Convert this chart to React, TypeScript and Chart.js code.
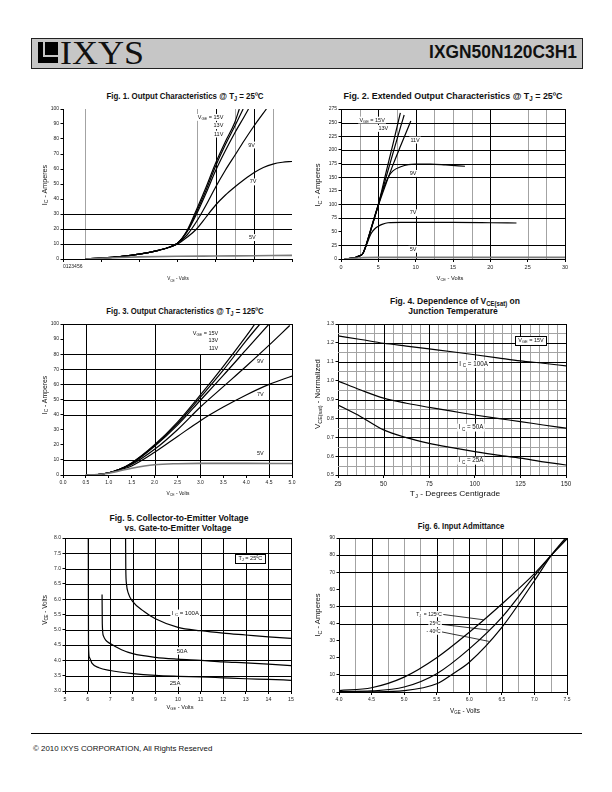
import React, { useEffect, useLayoutEffect, useRef } from 'react';
import { Chart, registerables } from 'chart.js';

Chart.register(...registerables);

type Pt = [number, number];
type Part = [string, number];
type GL = number | [number, number, number];

const FONT = '"Liberation Sans", Arial, Helvetica, sans-serif';
const SERIF = '"Liberation Serif", "Times New Roman", serif';
const GRAY = '#a3a3a3';
const PAD_L = 40, PAD_T = 8, PAD_R = 10, PAD_B = 22;

/* ---------------- Fig. 1  Output Characteristics @ Tj = 25C ---------------- */
const fig1XTicks = [0, 1, 2, 3, 4, 5, 6];
const fig1YTicks = [0, 10, 20, 30, 40, 50, 60, 70, 80, 90, 100];
const fig1XLabel = '0123456';
const fig1Vge15: Pt[] = [[0.58, 0], [1.0, 0.6], [1.5, 1.6], [2.0, 3.2], [2.5, 5.8], [2.8, 8], [3.0, 10.5], [3.25, 19], [3.5, 33], [3.75, 48], [4.0, 64], [4.25, 78], [4.5, 91], [4.62, 100]];
const fig1Vge13: Pt[] = [[0.58, 0], [1.0, 0.6], [1.5, 1.6], [2.0, 3.2], [2.5, 5.8], [2.8, 8], [3.0, 10.5], [3.25, 18.5], [3.5, 31.5], [3.75, 46], [4.0, 62], [4.25, 76], [4.5, 88.5], [4.72, 100]];
const fig1Vge11: Pt[] = [[0.58, 0], [1.0, 0.6], [1.5, 1.6], [2.0, 3.2], [2.5, 5.8], [2.8, 8], [3.0, 10.5], [3.25, 18], [3.5, 30], [3.75, 44], [4.0, 59], [4.25, 72], [4.5, 84], [4.75, 95], [4.86, 100]];
const fig1Vge9: Pt[] = [[0.58, 0], [1.0, 0.6], [1.5, 1.6], [2.0, 3.2], [2.5, 5.8], [2.8, 8], [3.0, 10.5], [3.25, 16], [3.5, 25], [3.75, 36], [4.0, 48], [4.25, 59], [4.5, 69], [4.75, 79], [5.0, 88.5], [5.33, 100]];
const fig1Vge7: Pt[] = [[0.58, 0], [1.0, 0.6], [1.5, 1.6], [2.0, 3.2], [2.5, 5.8], [2.8, 8], [3.0, 10], [3.25, 14.5], [3.5, 20], [3.75, 28], [4.0, 36], [4.25, 42.5], [4.5, 48], [4.75, 53], [5.0, 57.5], [5.25, 61], [5.5, 63.3], [5.75, 64.5], [6.0, 65]];
const fig1Vge5: Pt[] = [[0.58, 0], [1.0, 0.5], [1.5, 1.0], [2.0, 1.4], [3.0, 1.8], [4.0, 2.0], [5.0, 2.2], [6.0, 2.4]];

/* ---------------- Fig. 2  Extended Output Characteristics @ Tj = 25C ---------------- */
const fig2XTicks = [0, 5, 10, 15, 20, 25, 30];
const fig2YTicks = [0, 25, 50, 75, 100, 125, 150, 175, 200, 225, 250, 275];
const fig2Vge15: Pt[] = [[0.5, 0], [1.5, 1.5], [2.0, 3], [2.5, 6], [2.8, 8], [3.0, 12], [3.2, 19], [3.5, 32], [4.0, 55], [4.5, 77], [5.0, 100], [6.0, 157], [7.0, 213], [7.95, 268]];
const fig2Vge13: Pt[] = [[0.5, 0], [1.5, 1.5], [2.0, 3], [2.5, 6], [2.8, 8], [3.0, 12], [3.2, 19], [3.5, 31.5], [4.0, 54], [4.5, 76], [5.0, 99], [6.0, 148], [7.0, 196], [8.0, 243], [8.46, 264]];
const fig2Vge11: Pt[] = [[0.5, 0], [1.5, 1.5], [2.0, 3], [2.5, 6], [2.8, 8], [3.0, 12], [3.2, 19], [3.5, 31], [4.0, 53], [4.5, 76], [5.0, 98], [6.0, 137], [7.0, 174], [8.0, 208], [9.35, 253]];
const fig2Vge9: Pt[] = [[0.5, 0], [1.5, 1.5], [2.0, 3], [2.5, 6], [2.8, 8], [3.0, 12], [3.2, 19], [3.5, 31], [4.0, 54], [4.5, 78], [5.0, 100], [5.5, 123], [6.0, 140], [6.5, 154], [7.0, 162], [8.0, 169], [9.0, 173], [10.0, 174], [12.0, 174], [14.0, 172.5], [16.6, 170]];
const fig2Vge7: Pt[] = [[0.5, 0], [1.5, 1.5], [2.0, 3], [2.5, 6], [2.8, 8], [3.0, 12], [3.5, 29], [4.0, 46], [4.5, 55], [5.0, 60], [5.5, 63.5], [6.3, 66.5], [8.0, 67], [15.0, 67], [20.0, 66.5], [23.5, 66]];
const fig2Vge5: Pt[] = [[0.5, 0], [2.0, 1.5], [3.0, 2.5], [5.0, 3], [10.0, 3], [20.0, 3], [30.0, 3]];

/* ---------------- Fig. 3  Output Characteristics @ Tj = 125C ---------------- */
const fig3XTicks = [0, 0.5, 1.0, 1.5, 2.0, 2.5, 3.0, 3.5, 4.0, 4.5, 5.0];
const fig3YTicks = [0, 10, 20, 30, 40, 50, 60, 70, 80, 90, 100];
const fig3Vge15: Pt[] = [[0.5, 0], [0.75, 0.3], [1.0, 1.5], [1.25, 4], [1.5, 8], [2.0, 20], [2.5, 35], [3.0, 53], [3.5, 72], [4.0, 92], [4.19, 100]];
const fig3Vge13: Pt[] = [[0.5, 0], [0.75, 0.3], [1.0, 1.5], [1.25, 4], [1.5, 8], [2.0, 19.5], [2.5, 34], [3.0, 51.5], [3.5, 69.5], [4.0, 89], [4.3, 100]];
const fig3Vge11: Pt[] = [[0.5, 0], [0.75, 0.3], [1.0, 1.5], [1.25, 4], [1.5, 7.5], [2.0, 19], [2.5, 33], [3.0, 49.5], [3.5, 66], [4.0, 83], [4.5, 100]];
const fig3Vge9: Pt[] = [[0.5, 0], [0.75, 0.3], [1.0, 1.5], [1.25, 4], [1.5, 7], [2.0, 17], [2.5, 30], [3.0, 45], [3.5, 58.5], [4.0, 72], [4.5, 86], [4.95, 99]];
const fig3Vge7: Pt[] = [[0.5, 0], [0.75, 0.3], [1.0, 1.5], [1.25, 3.5], [1.5, 6], [2.0, 15], [2.5, 25.5], [3.0, 36], [3.5, 45], [4.0, 53], [4.5, 60], [5.0, 65.5]];
const fig3Vge5: Pt[] = [[0.5, 0], [0.75, 0.3], [1.0, 1.2], [1.5, 4.5], [2.0, 6.8], [2.5, 7.5], [3.0, 7.7], [4.0, 7.7], [5.0, 7.6]];

/* ---------------- Fig. 4  VCE(sat) vs junction temperature ---------------- */
const fig4XTicks = [25, 50, 75, 100, 125, 150];
const fig4YTicks = [0.5, 0.6, 0.7, 0.8, 0.9, 1.0, 1.1, 1.2, 1.3];
const fig4Ic100: Pt[] = [[25, 1.237], [37.5, 1.218], [50, 1.198], [62.5, 1.183], [75, 1.168], [87.5, 1.153], [100, 1.137], [112.5, 1.121], [125, 1.105], [137.5, 1.092], [150, 1.078]];
const fig4Ic50: Pt[] = [[25, 0.998], [37.5, 0.95], [50, 0.907], [62.5, 0.88], [75, 0.858], [87.5, 0.838], [100, 0.818], [112.5, 0.8], [125, 0.783], [137.5, 0.765], [150, 0.748]];
const fig4Ic25: Pt[] = [[25, 0.871], [37.5, 0.809], [50, 0.739], [62.5, 0.698], [75, 0.668], [87.5, 0.645], [100, 0.624], [112.5, 0.605], [125, 0.589], [137.5, 0.57], [150, 0.553]];

/* ---------------- Fig. 5  VCE vs VGE ---------------- */
const fig5XTicks = [5, 6, 7, 8, 9, 10, 11, 12, 13, 14, 15];
const fig5YTicks = [3.0, 3.5, 4.0, 4.5, 5.0, 5.5, 6.0, 6.5, 7.0, 7.5, 8.0];
const fig5Ic100: Pt[] = [[7.68, 8.0], [7.69, 7.0], [7.72, 6.5], [7.8, 6.2], [8.0, 5.92], [8.5, 5.6], [9.0, 5.36], [10.0, 5.08], [11.0, 4.97], [12.0, 4.89], [13.0, 4.83], [14.0, 4.77], [15.0, 4.72]];
const fig5Ic50: Pt[] = [[6.64, 6.15], [6.65, 5.2], [6.7, 4.8], [6.8, 4.66], [7.0, 4.55], [7.5, 4.35], [8.0, 4.22], [9.0, 4.1], [10.0, 4.04], [11.0, 4.0], [12.0, 3.95], [13.0, 3.92], [14.0, 3.88], [15.0, 3.83]];
const fig5Ic25: Pt[] = [[6.03, 8.0], [6.04, 4.5], [6.08, 4.1], [6.2, 3.9], [6.5, 3.76], [7.0, 3.67], [8.0, 3.57], [9.0, 3.51], [10.0, 3.48], [11.0, 3.46], [12.0, 3.43], [13.0, 3.4], [14.0, 3.38], [15.0, 3.35]];

/* ---------------- Fig. 6  Input admittance ---------------- */
const fig6XTicks = [4.0, 4.5, 5.0, 5.5, 6.0, 6.5, 7.0, 7.5];
const fig6YTicks = [0, 10, 20, 30, 40, 50, 60, 70, 80, 90];
const fig6Tj125: Pt[] = [[4.0, 0.8], [4.5, 2.5], [5.0, 8.7], [5.5, 20], [6.0, 34.9], [6.5, 51.4], [7.0, 69.2], [7.27, 80.4], [7.5, 89.5]];
const fig6Tj25: Pt[] = [[4.0, 0.2], [4.5, 0.6], [5.0, 2.9], [5.5, 10.7], [6.0, 25.2], [6.5, 43.6], [7.0, 67.8], [7.27, 80.4], [7.5, 89.8]];
const fig6TjM40: Pt[] = [[4.0, 0], [4.5, 0.1], [5.0, 0.8], [5.5, 4.8], [5.75, 10.7], [6.0, 17.4], [6.5, 37.8], [7.0, 65], [7.27, 80.4], [7.5, 91]];

/* ---------------- types & helpers ---------------- */
interface Series { pts: Pt[]; color?: string; width?: number }
interface Label { x: number; y: number; parts: Part[]; align?: 'left' | 'right' | 'center'; size: number; box?: boolean }
interface Spec {
  rect: { l: number; t: number; r: number; b: number };
  xTicks: number[]; yTicks: number[];
  xFmt: (v: number, i: number) => string; yFmt: (v: number) => string;
  xFont: number; yFont: number; xAlign?: string;
  series: Series[];
  grid: { xGray?: GL[]; xBlack?: GL[]; yGray?: GL[]; yBlack?: GL[]; frame?: boolean };
  labels: Label[];
  leaders?: number[][];
}

const fmt0 = (v: number) => String(Math.round(v));
const fmt1 = (v: number) => v.toFixed(1);
const VGE15: Part[] = [['V', 0], ['GE', 1], [' = 15V', 0]];
const one = (s: string): Part[] => [[s, 0]];
const GRID_PLAIN = '#000';

function drawRich(ctx: CanvasRenderingContext2D, parts: Part[], px: number, py: number, align: string, size: number, box?: boolean) {
  ctx.save();
  ctx.textBaseline = 'middle';
  ctx.textAlign = 'left';
  const widths = parts.map(([t, sub]) => {
    ctx.font = `${sub ? size * 0.72 : size}px ${FONT}`;
    return ctx.measureText(t).width;
  });
  const total = widths.reduce((a, b) => a + b, 0);
  let x0 = align === 'left' ? px : align === 'right' ? px - total : px - total / 2;
  const padX = box ? 3 : 1.2;
  const h = box ? size * 1.6 : size * 1.25;
  ctx.fillStyle = '#fff';
  ctx.fillRect(x0 - padX, py - h / 2, total + padX * 2, h);
  if (box) {
    ctx.strokeStyle = '#000';
    ctx.lineWidth = 1;
    ctx.strokeRect(Math.round(x0 - padX) + 0.5, Math.round(py - h / 2) + 0.5, Math.round(total + padX * 2), Math.round(h));
  }
  ctx.fillStyle = '#111';
  parts.forEach(([t, sub], i) => {
    ctx.font = `${sub ? size * 0.72 : size}px ${FONT}`;
    ctx.fillText(t, x0, py + (sub ? size * 0.28 : 0));
    x0 += widths[i];
  });
  ctx.restore();
}

function makeDecor(s: Spec) {
  return {
    id: 'refDecor',
    beforeDatasetsDraw(chart: any) {
      const { ctx, chartArea: a } = chart;
      const xs = chart.scales.x, ys = chart.scales.y;
      ctx.save();
      const seg = (x1: number, y1: number, x2: number, y2: number, c: string) => {
        ctx.strokeStyle = c; ctx.lineWidth = 1;
        ctx.beginPath(); ctx.moveTo(x1, y1); ctx.lineTo(x2, y2); ctx.stroke();
      };
      const vlines = (list: GL[] | undefined, c: string) => (list || []).forEach((g) => {
        const v = Array.isArray(g) ? g[0] : g;
        const px = Math.round(xs.getPixelForValue(v)) + 0.5;
        const y1 = Array.isArray(g) ? ys.getPixelForValue(g[2]) : a.top;
        const y2 = Array.isArray(g) ? ys.getPixelForValue(g[1]) : a.bottom;
        seg(px, y1, px, y2, c);
      });
      const hlines = (list: GL[] | undefined, c: string) => (list || []).forEach((g) => {
        const v = Array.isArray(g) ? g[0] : g;
        const py = Math.round(ys.getPixelForValue(v)) + 0.5;
        const x1 = Array.isArray(g) ? xs.getPixelForValue(g[1]) : a.left;
        const x2 = Array.isArray(g) ? xs.getPixelForValue(g[2]) : a.right;
        seg(x1, py, x2, py, c);
      });
      vlines(s.grid.xGray, GRAY);
      hlines(s.grid.yGray, GRAY);
      vlines(s.grid.xBlack, GRID_PLAIN);
      hlines(s.grid.yBlack, GRID_PLAIN);
      if (s.grid.frame) {
        seg(a.left, Math.round(a.top) + 0.5, a.right + 0.5, Math.round(a.top) + 0.5, '#000');
        seg(Math.round(a.right) + 0.5, a.top, Math.round(a.right) + 0.5, a.bottom, '#000');
      }
      ctx.restore();
    },
    afterDatasetsDraw(chart: any) {
      const { ctx } = chart;
      const xs = chart.scales.x, ys = chart.scales.y;
      ctx.save();
      (s.leaders || []).forEach(([x1, y1, x2, y2]) => {
        ctx.strokeStyle = '#000'; ctx.lineWidth = 0.8;
        ctx.beginPath();
        ctx.moveTo(xs.getPixelForValue(x1), ys.getPixelForValue(y1));
        ctx.lineTo(xs.getPixelForValue(x2), ys.getPixelForValue(y2));
        ctx.stroke();
      });
      ctx.restore();
      s.labels.forEach((l) => drawRich(ctx, l.parts, xs.getPixelForValue(l.x), ys.getPixelForValue(l.y), l.align || 'center', l.size, l.box));
    },
  };
}

function buildConfig(s: Spec): any {
  return {
    type: 'line',
    data: {
      datasets: s.series.map((ser) => ({
        data: ser.pts.map(([x, y]) => ({ x, y })),
        borderColor: ser.color || '#000',
        borderWidth: ser.width || 1.2,
        pointRadius: 0,
        pointHoverRadius: 0,
        fill: false,
        cubicInterpolationMode: 'monotone',
      })),
    },
    options: {
      responsive: false,
      maintainAspectRatio: false,
      animation: false,
      devicePixelRatio: 1,
      events: [],
      layout: { padding: { left: 0, top: PAD_T, right: PAD_R, bottom: 0 } },
      plugins: { legend: { display: false }, tooltip: { enabled: false }, title: { display: false } },
      scales: {
        x: {
          type: 'linear',
          min: s.xTicks[0],
          max: s.xTicks[s.xTicks.length - 1],
          afterBuildTicks: (sc: any) => { sc.ticks = s.xTicks.map((v) => ({ value: v })); },
          afterFit: (sc: any) => { sc.height = PAD_B; },
          ticks: {
            autoSkip: false, maxRotation: 0, minRotation: 0, padding: 2, color: '#222',
            font: { family: FONT, size: s.xFont },
            align: s.xAlign || 'center',
            callback: (v: number, i: number) => s.xFmt(v, i),
          },
          grid: { drawOnChartArea: false, drawTicks: true, tickLength: 3, color: '#000', lineWidth: 1 },
          border: { display: true, color: '#000', width: 1 },
        },
        y: {
          type: 'linear',
          min: s.yTicks[0],
          max: s.yTicks[s.yTicks.length - 1],
          afterBuildTicks: (sc: any) => { sc.ticks = s.yTicks.map((v) => ({ value: v })); },
          afterFit: (sc: any) => { sc.width = PAD_L; },
          ticks: {
            autoSkip: false, padding: 1.5, color: '#222',
            font: { family: FONT, size: s.yFont },
            callback: (v: number) => s.yFmt(v),
          },
          grid: { drawOnChartArea: false, drawTicks: true, tickLength: 2.5, color: '#000', lineWidth: 1 },
          border: { display: true, color: '#000', width: 1 },
        },
      },
    },
    plugins: [makeDecor(s)],
  };
}

/* ---------------- chart specs ---------------- */
const spec1: Spec = {
  rect: { l: 63, t: 109, r: 292, b: 259 },
  xTicks: fig1XTicks, yTicks: fig1YTicks,
  xFmt: (_v, i) => (i === 0 ? fig1XLabel : ''), yFmt: fmt0, xAlign: 'start',
  xFont: 5, yFont: 5,
  series: [
    { pts: fig1Vge5, color: '#7a7a7a', width: 1.6 },
    { pts: fig1Vge7 }, { pts: fig1Vge9 }, { pts: fig1Vge11 }, { pts: fig1Vge13 }, { pts: fig1Vge15 },
  ],
  grid: { xGray: [0.57, 3.5, 4.5, 5.5], xBlack: [4, 5], yBlack: [10, 20, 30] },
  labels: [
    { x: 4.2, y: 94.4, parts: VGE15, align: 'right', size: 5.5 },
    { x: 4.2, y: 88.9, parts: one('13V'), align: 'right', size: 5.5 },
    { x: 4.2, y: 83.3, parts: one('11V'), align: 'right', size: 5.5 },
    { x: 5.03, y: 76, parts: one('9V'), align: 'right', size: 5.5 },
    { x: 5.07, y: 51.4, parts: one('7V'), align: 'right', size: 5.5 },
    { x: 5.05, y: 14.3, parts: one('5V'), align: 'right', size: 5.5 },
  ],
};

const spec2: Spec = {
  rect: { l: 341, t: 109, r: 565, b: 259 },
  xTicks: fig2XTicks, yTicks: fig2YTicks,
  xFmt: (v) => fmt0(v), yFmt: fmt0,
  xFont: 5.5, yFont: 5,
  series: [
    { pts: fig2Vge5, color: '#7a7a7a', width: 1.6 },
    { pts: fig2Vge7 }, { pts: fig2Vge9 }, { pts: fig2Vge11 }, { pts: fig2Vge13 }, { pts: fig2Vge15 },
  ],
  grid: {
    xGray: [2.5, 7.5, 12.5, 15, 17.5, 25, 27.5], xBlack: [5, 10, 20],
    yBlack: [25, 75, 100, 150, 175, 200, 225, 250], frame: true,
  },
  labels: [
    { x: 5.87, y: 254.7, parts: VGE15, align: 'right', size: 5.5 },
    { x: 6.32, y: 239.4, parts: one('13V'), align: 'right', size: 5.5 },
    { x: 10.55, y: 218, parts: one('11V'), align: 'right', size: 5.5 },
    { x: 10.1, y: 156.8, parts: one('9V'), align: 'right', size: 5.5 },
    { x: 10.1, y: 84.5, parts: one('7V'), align: 'right', size: 5.5 },
    { x: 10.1, y: 17.8, parts: one('5V'), align: 'right', size: 5.5 },
  ],
};

const spec3: Spec = {
  rect: { l: 63, t: 324, r: 292, b: 475 },
  xTicks: fig3XTicks, yTicks: fig3YTicks,
  xFmt: (v) => fmt1(v), yFmt: fmt0,
  xFont: 5, yFont: 5,
  series: [
    { pts: fig3Vge5, color: '#7a7a7a', width: 1.6 },
    { pts: fig3Vge7 }, { pts: fig3Vge9 }, { pts: fig3Vge11 }, { pts: fig3Vge13 }, { pts: fig3Vge15 },
  ],
  grid: { xBlack: [0.5, 2.0, [3.0, 0, 80], 4.5], yBlack: [10, 40, 50, 60, 70, 80], frame: true },
  labels: [
    { x: 3.39, y: 93.8, parts: VGE15, align: 'right', size: 5.5 },
    { x: 3.39, y: 89, parts: one('13V'), align: 'right', size: 5.5 },
    { x: 3.39, y: 84.1, parts: one('11V'), align: 'right', size: 5.5 },
    { x: 4.38, y: 75, parts: one('9V'), align: 'right', size: 5.5 },
    { x: 4.38, y: 53, parts: one('7V'), align: 'right', size: 5.5 },
    { x: 4.38, y: 14.3, parts: one('5V'), align: 'right', size: 5.5 },
  ],
};

const spec4: Spec = {
  rect: { l: 338, t: 324, r: 566, b: 475 },
  xTicks: fig4XTicks, yTicks: fig4YTicks,
  xFmt: (v) => fmt0(v), yFmt: fmt1,
  xFont: 6.3, yFont: 5.3,
  series: [{ pts: fig4Ic100 }, { pts: fig4Ic50 }, { pts: fig4Ic25 }],
  grid: {
    xGray: [30, 35, 40, 45, 55, 60, 65, 70, 80, 85, 90, 95, 105, 110, 115, 120, 130, 135, 140, 145],
    xBlack: [50, 75, 100, 125],
    yGray: [0.55, 0.65, 0.75, 0.85, 0.95, 1.0, 1.05, 1.15, 1.25],
    yBlack: [0.6, 0.7, 0.8, 0.9, 1.1, 1.2], frame: true,
  },
  labels: [
    { x: 130.8, y: 1.211, parts: VGE15, align: 'center', size: 5.5, box: true },
    { x: 99.3, y: 1.088, parts: [['I ', 0], ['C', 1], [' = 100A', 0]], align: 'center', size: 6.3 },
    { x: 97.9, y: 0.751, parts: [['I ', 0], ['C', 1], [' = 50A', 0]], align: 'center', size: 6.3 },
    { x: 97.9, y: 0.576, parts: [['I ', 0], ['C', 1], [' = 25A', 0]], align: 'center', size: 6.3 },
  ],
};

const spec5: Spec = {
  rect: { l: 65, t: 538, r: 291, b: 691 },
  xTicks: fig5XTicks, yTicks: fig5YTicks,
  xFmt: (v) => fmt0(v), yFmt: fmt1,
  xFont: 5.3, yFont: 5,
  series: [{ pts: fig5Ic100 }, { pts: fig5Ic50 }, { pts: fig5Ic25 }],
  grid: {
    xBlack: [6, 7, 8, 9, 10, 11, 12, 13, 14],
    yBlack: [3.5, 4.0, 4.5, 5.0, 5.5, 6.0, 6.5, 7.0, 7.5], frame: true,
  },
  labels: [
    { x: 10.32, y: 5.54, parts: [['I ', 0], ['C', 1], [' = 100A', 0]], align: 'center', size: 6 },
    { x: 10.18, y: 4.31, parts: one('50A'), align: 'center', size: 6 },
    { x: 9.87, y: 3.26, parts: one('25A'), align: 'center', size: 6 },
    { x: 13.2, y: 7.33, parts: [['T', 0], ['J', 1], [' = 25ºC', 0]], align: 'center', size: 5.5, box: true },
  ],
};

const spec6: Spec = {
  rect: { l: 339, t: 538, r: 567, b: 692 },
  xTicks: fig6XTicks, yTicks: fig6YTicks,
  xFmt: (v) => fmt1(v), yFmt: fmt0,
  xFont: 5, yFont: 5,
  series: [{ pts: fig6Tj125 }, { pts: fig6Tj25 }, { pts: fig6TjM40 }],
  grid: {
    xGray: [4.25, 4.75, 5.0, 5.25, 5.75, 6.25, 6.75, 7.25],
    xBlack: [4.5, 5.5, 6.0, 6.5, 7.0],
    yBlack: [10, 40, 50, 70, 80], frame: true,
  },
  labels: [
    { x: 5.58, y: 45.5, parts: [['T', 0], ['J', 1], ['  = 125ºC', 0]], align: 'right', size: 5 },
    { x: 5.56, y: 39.7, parts: one('25ºC'), align: 'right', size: 5 },
    { x: 5.56, y: 35.3, parts: one('- 40ºC'), align: 'right', size: 5 },
  ],
  leaders: [[5.6, 45.3, 6.22, 42.2], [5.58, 39.5, 6.3, 36.2], [5.58, 35.1, 6.3, 29.6]],
};

/* ---------------- React components ---------------- */
function PlotCanvas({ spec }: { spec: Spec }) {
  const ref = useRef<HTMLCanvasElement>(null);
  const { l, t, r, b } = spec.rect;
  const w = r - l + PAD_L + PAD_R;
  const h = b - t + PAD_T + PAD_B;
  useEffect(() => {
    const chart = new Chart(ref.current as HTMLCanvasElement, buildConfig(spec));
    return () => chart.destroy();
  }, [spec]);
  return (
    <canvas ref={ref} width={w} height={h}
      style={{ position: 'absolute', left: l - PAD_L, top: t - PAD_T, width: w, height: h }} />
  );
}

function Sub({ children }: { children: React.ReactNode }) {
  return <span style={{ fontSize: '70%', position: 'relative', top: '0.3em' }}>{children}</span>;
}

function FitText({ x, y, w, size, bold, rot, family, children }:
  { x: number; y: number; w: number; size: number; bold?: boolean; rot?: boolean; family?: string; children: React.ReactNode }) {
  const ref = useRef<HTMLDivElement>(null);
  useLayoutEffect(() => {
    const el = ref.current;
    if (!el) return;
    const nat = el.offsetWidth || w;
    el.style.transform = `translate(-50%, -50%)${rot ? ' rotate(-90deg)' : ''} scaleX(${w / nat})`;
  }, [w, rot]);
  return (
    <div ref={ref} style={{
      position: 'absolute', left: x, top: y, whiteSpace: 'nowrap', lineHeight: 1,
      fontFamily: family || FONT, fontSize: size, fontWeight: bold ? 700 : 400, color: '#111',
      transform: `translate(-50%, -50%)${rot ? ' rotate(-90deg)' : ''}`,
    }}>{children}</div>
  );
}

function Logo() {
  return (
    <>
      <div style={{ position: 'absolute', left: 38, top: 42, width: 20, height: 21, background: '#000' }} />
      <div style={{ position: 'absolute', left: 43, top: 42, width: 15, height: 15, background: '#c6c6c6' }} />
      <div style={{ position: 'absolute', left: 45, top: 42, width: 13, height: 13, background: '#000' }} />
    </>
  );
}

export default function App() {
  return (
    <div style={{ position: 'absolute', left: 0, top: 0, width: 612, height: 792, background: '#fff', overflow: 'hidden', fontFamily: FONT }}>
      {/* header */}
      <div style={{ position: 'absolute', left: 31, top: 38, width: 550, height: 29, background: '#c6c6c6', border: '1px solid #222' }} />
      <Logo />
      <FitText x={102} y={53} w={84} size={33} family={SERIF}>IXYS</FitText>
      <FitText x={503} y={53} w={148} size={17.5} bold>IXGN50N120C3H1</FitText>

      {/* titles */}
      <FitText x={184.5} y={96} w={157} size={9.6} bold>Fig. 1. Output Characteristics @ T<Sub>J</Sub> = 25ºC</FitText>
      <FitText x={452.5} y={96} w={219} size={9.6} bold>Fig. 2. Extended Output Characteristics @ T<Sub>J</Sub> = 25ºC</FitText>
      <FitText x={184.5} y={311} w={157} size={9.6} bold>Fig. 3. Output Characteristics @ T<Sub>J</Sub> = 125ºC</FitText>
      <FitText x={455} y={301} w={130} size={9.6} bold>Fig. 4. Dependence of V<Sub>CE(sat)</Sub> on</FitText>
      <FitText x={453} y={310.5} w={89.5} size={9.6} bold>Junction Temperature</FitText>
      <FitText x={178.8} y={518.3} w={139} size={9.6} bold>Fig. 5. Collector-to-Emitter Voltage</FitText>
      <FitText x={177.5} y={527.7} w={106.7} size={9.6} bold>vs. Gate-to-Emitter Voltage</FitText>
      <FitText x={461} y={526} w={86} size={9.6} bold>Fig. 6. Input Admittance</FitText>

      {/* charts */}
      <PlotCanvas spec={spec1} />
      <PlotCanvas spec={spec2} />
      <PlotCanvas spec={spec3} />
      <PlotCanvas spec={spec4} />
      <PlotCanvas spec={spec5} />
      <PlotCanvas spec={spec6} />

      {/* axis titles */}
      <FitText x={177.7} y={278.3} w={21.5} size={6}>V<Sub>CE</Sub> - Volts</FitText>
      <FitText x={45} y={185} w={40} size={7} rot>I<Sub>C</Sub> - Amperes</FitText>
      <FitText x={450} y={278} w={26.7} size={6}>V<Sub>CE</Sub> - Volts</FitText>
      <FitText x={318.3} y={185} w={43} size={7.5} rot>I<Sub>C</Sub> - Amperes</FitText>
      <FitText x={177.5} y={492.7} w={22.7} size={6}>V<Sub>CE</Sub> - Volts</FitText>
      <FitText x={45} y={395} w={38} size={7} rot>I<Sub>C</Sub> - Amperes</FitText>
      <FitText x={455} y={494} w={90} size={8}>T<Sub>J</Sub> - Degrees Centigrade</FitText>
      <FitText x={318.3} y={394} w={70} size={8} rot>V<Sub>CE(sat)</Sub> - Normalized</FitText>
      <FitText x={180} y={706.7} w={26.7} size={6}>V<Sub>GE</Sub> - Volts</FitText>
      <FitText x={45} y={610} w={30} size={6.5} rot>V<Sub>CE</Sub> - Volts</FitText>
      <FitText x={465} y={710.5} w={30} size={6.3}>V<Sub>GE</Sub> - Volts</FitText>
      <FitText x={318.3} y={615} w={43} size={7.5} rot>I<Sub>C</Sub> - Amperes</FitText>

      {/* footer */}
      <div style={{ position: 'absolute', left: 31, top: 733, width: 551, height: 1, background: '#000' }} />
      <div style={{ position: 'absolute', left: 33, top: 745, fontSize: 7.9, whiteSpace: 'nowrap', lineHeight: 1, color: '#111' }}>
        © 2010 IXYS CORPORATION, All Rights Reserved
      </div>
    </div>
  );
}
